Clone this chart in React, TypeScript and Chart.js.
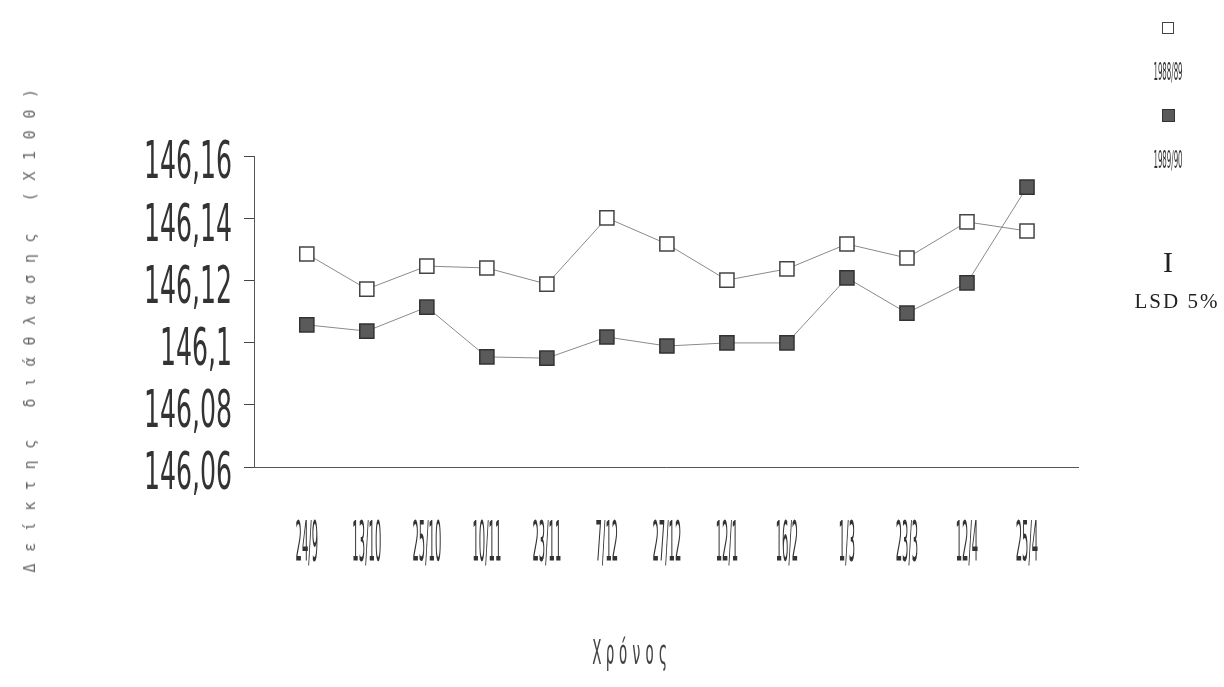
import React, { useEffect, useRef } from "react";
import { Chart, registerables } from "chart.js";

Chart.register(...registerables);

const dateLabels = ["24/9", "13/10", "25/10", "10/11", "23/11", "7/12", "27/12", "12/1", "16/2", "1/3", "23/3", "12/4", "25/4"];
const series1Label = "1988/89";
const series2Label = "1989/90";
const series1 = [146.1285, 146.1172, 146.1246, 146.124, 146.1188, 146.1401, 146.1317, 146.1201, 146.1237, 146.1317, 146.1272, 146.1388, 146.1359];
const series2 = [146.1057, 146.1037, 146.1114, 146.0954, 146.095, 146.1018, 146.0989, 146.0999, 146.0999, 146.1208, 146.1095, 146.1192, 146.15];
const yTicks = [146.06, 146.08, 146.1, 146.12, 146.14, 146.16];
const yTitle = "Δείκτης διάθλασης (Χ100)";
const xTitle = "Χρόνος";
const lsdLabel = "LSD 5%";

const fmt = (v: number) => Number(v.toFixed(2)).toString().replace(".", ",");

const NARROW = '"Liberation Sans Narrow", "DejaVu Sans Condensed", sans-serif';

const stretchedLabels = {
  id: "stretchedLabels",
  afterDraw(chart: any) {
    const ctx = chart.ctx;
    const xs = chart.scales.x;
    const ys = chart.scales.y;
    ctx.save();
    ctx.fillStyle = "#333";
    ctx.textBaseline = "middle";
    ctx.textAlign = "center";
    ctx.font = `18px ${NARROW}`;
    xs.ticks.forEach((t: any) => {
      const px = xs.getPixelForValue(t.value);
      const lbl = dateLabels[Math.round(t.value)];
      if (lbl === undefined) return;
      ctx.save();
      ctx.translate(px, 546);
      ctx.scale(0.62, 3.1);
      ctx.fillText(lbl, 0, 0);
      ctx.restore();
    });
    ctx.textAlign = "right";
    ctx.font = `28px ${NARROW}`;
    ys.ticks.forEach((t: any) => {
      const py = ys.getPixelForValue(t.value);
      ctx.save();
      ctx.translate(232, py + 9);
      ctx.scale(1.0, 1.85);
      ctx.fillText(fmt(t.value), 0, 0);
      ctx.restore();
    });
    ctx.restore();
  },
};

export default function App() {
  const ref = useRef<HTMLCanvasElement | null>(null);

  useEffect(() => {
    if (!ref.current) return;
    const chart = new Chart(ref.current, {
      type: "line",
      data: {
        datasets: [
          {
            label: series1Label,
            data: series1.map((y, i) => ({ x: i, y })),
            borderColor: "#8a8a8a",
            borderWidth: 1,
            pointStyle: "rect",
            pointRadius: 10,
            pointBackgroundColor: "#ffffff",
            pointBorderColor: "#444",
            pointBorderWidth: 1.5,
            tension: 0,
          },
          {
            label: series2Label,
            data: series2.map((y, i) => ({ x: i, y })),
            borderColor: "#8a8a8a",
            borderWidth: 1,
            pointStyle: "rect",
            pointRadius: 10,
            pointBackgroundColor: "#5a5a5a",
            pointBorderColor: "#333",
            pointBorderWidth: 1.5,
            tension: 0,
          },
        ],
      },
      options: {
        animation: false,
        responsive: false,
        maintainAspectRatio: false,
        layout: { padding: { left: 0, right: 146, top: 156, bottom: 0 } },
        plugins: { legend: { display: false }, tooltip: { enabled: false } },
        scales: {
          x: {
            type: "linear",
            min: -0.88,
            max: 12.85,
            afterBuildTicks: (s: any) => {
              s.ticks = dateLabels.map((_, i) => ({ value: i }));
            },
            ticks: { display: false },
            grid: { display: false },
            border: { display: true, color: "#555", width: 1 },
            afterFit: (s: any) => {
              s.height = 220;
            },
          },
          y: {
            type: "linear",
            min: 146.06,
            max: 146.16,
            afterBuildTicks: (s: any) => {
              s.ticks = yTicks.map((v) => ({ value: v }));
            },
            ticks: { display: false },
            grid: { drawOnChartArea: false, drawTicks: true, tickLength: 10, color: "#444" },
            border: { display: true, color: "#555", width: 1 },
            afterFit: (s: any) => {
              s.width = 254;
            },
          },
        },
      },
      plugins: [stretchedLabels],
    } as any);
    return () => chart.destroy();
  }, []);

  const abs: React.CSSProperties = { position: "absolute", whiteSpace: "nowrap" };

  return (
    <div style={{ position: "fixed", left: 0, top: 0, width: 1224, height: 687, background: "#fff", overflow: "hidden" }}>
      <canvas ref={ref} width={1224} height={687} style={{ position: "absolute", left: 0, top: 0, width: 1224, height: 687 }} />
      {/* Y axis title */}
      <div
        style={{
          ...abs,
          left: 30,
          top: 325,
          transform: "translate(-50%, -50%) rotate(-90deg)",
          fontFamily: '"DejaVu Sans Mono", monospace',
          fontSize: 15,
          letterSpacing: 11.6,
          color: "#666",
        }}
      >
        {yTitle}
      </div>
      {/* X axis title */}
      <div
        style={{
          ...abs,
          left: 632,
          top: 652,
          transform: "translate(-50%, -50%) scale(0.9, 2.1)",
          fontFamily: '"DejaVu Sans Mono", monospace',
          fontSize: 16,
          letterSpacing: 5,
          color: "#444",
        }}
      >
        {xTitle}
      </div>
      {/* Legend */}
      <div style={{ ...abs, left: 1162, top: 22, width: 12, height: 12, border: "1.5px solid #444", background: "#fff", boxSizing: "border-box" }} />
      <div
        style={{
          ...abs,
          left: 1168,
          top: 72,
          transform: "translate(-50%, -50%) scale(0.65, 2)",
          fontFamily: NARROW,
          fontSize: 12,
          color: "#333",
        }}
      >
        {series1Label}
      </div>
      <div style={{ ...abs, left: 1162, top: 109, width: 13, height: 13, border: "1.5px solid #333", background: "#5a5a5a", boxSizing: "border-box" }} />
      <div
        style={{
          ...abs,
          left: 1168,
          top: 160,
          transform: "translate(-50%, -50%) scale(0.65, 2)",
          fontFamily: NARROW,
          fontSize: 12,
          color: "#333",
        }}
      >
        {series2Label}
      </div>
      {/* LSD */}
      <div
        style={{
          ...abs,
          left: 1168,
          top: 262,
          transform: "translate(-50%, -50%)",
          fontFamily: '"Liberation Serif", serif',
          fontSize: 30,
          color: "#222",
        }}
      >
        I
      </div>
      <div
        style={{
          ...abs,
          left: 1177,
          top: 301,
          transform: "translate(-50%, -50%)",
          fontFamily: '"Liberation Serif", serif',
          fontSize: 21,
          letterSpacing: 2,
          color: "#222",
        }}
      >
        {lsdLabel}
      </div>
    </div>
  );
}
